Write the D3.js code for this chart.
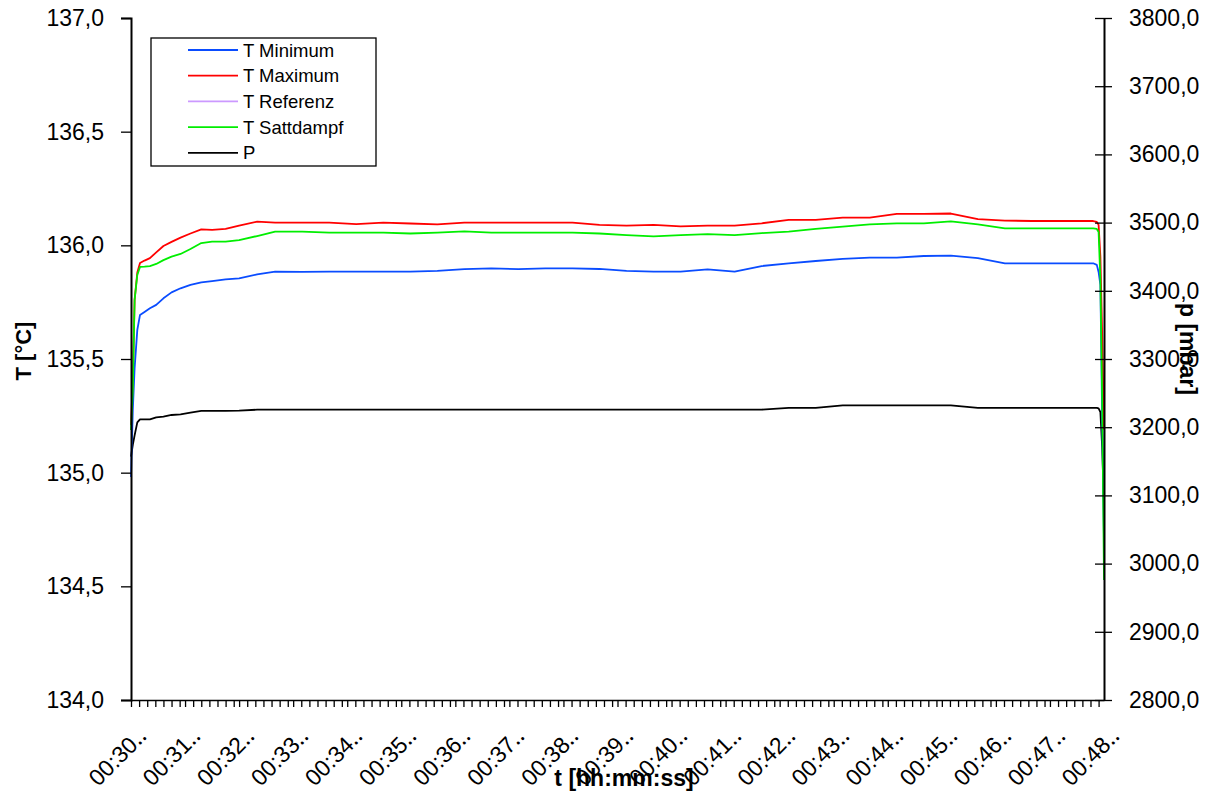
<!DOCTYPE html>
<html>
<head>
<meta charset="utf-8">
<script src="https://cdn.jsdelivr.net/npm/d3@7"></script>
<style>
  body { margin: 0; background: #fff; }
  text { font-family: "Liberation Sans", Arial, sans-serif; fill: #000; }
</style>
</head>
<body>
<script>
// sample times (hh:mm:ss)
var times = [
    '00:30:00', '00:30:02', '00:30:04', '00:30:07', '00:30:10', '00:30:15', '00:30:21', '00:30:28', '00:30:36', '00:30:45',
    '00:30:55', '00:31:06', '00:31:18', '00:31:30', '00:31:45', '00:32:00', '00:32:20', '00:32:40', '00:33:10', '00:33:40',
    '00:34:10', '00:34:40', '00:35:10', '00:35:40', '00:36:10', '00:36:40', '00:37:10', '00:37:40', '00:38:10', '00:38:40',
    '00:39:10', '00:39:40', '00:40:10', '00:40:40', '00:41:10', '00:41:40', '00:42:10', '00:42:40', '00:43:10', '00:43:40',
    '00:44:10', '00:44:40', '00:45:10', '00:45:40', '00:46:10', '00:46:40', '00:47:10', '00:47:30', '00:47:40', '00:47:48',
    '00:47:52', '00:47:54', '00:47:56', '00:47:58', '00:48:00'
];

// T Minimum [°C]
var tMinimum = [
    134.981, 135.276, 135.460, 135.628, 135.694, 135.707, 135.723, 135.738, 135.767, 135.793,
    135.811, 135.826, 135.837, 135.843, 135.850, 135.855, 135.872, 135.884, 135.883, 135.884,
    135.884, 135.884, 135.884, 135.888, 135.895, 135.899, 135.895, 135.899, 135.899, 135.896,
    135.888, 135.884, 135.884, 135.894, 135.884, 135.909, 135.921, 135.931, 135.940, 135.946,
    135.946, 135.953, 135.955, 135.944, 135.921, 135.921, 135.921, 135.921, 135.921, 135.921,
    135.914, 135.883, 135.826, 135.232, 134.704
];

// T Maximum [°C]
var tMaximum = [
    135.210, 135.408, 135.760, 135.880, 135.922, 135.933, 135.944, 135.969, 135.997, 136.015,
    136.034, 136.052, 136.070, 136.068, 136.072, 136.087, 136.104, 136.100, 136.100, 136.100,
    136.093, 136.100, 136.096, 136.092, 136.100, 136.100, 136.100, 136.100, 136.100, 136.090,
    136.087, 136.090, 136.083, 136.087, 136.087, 136.097, 136.112, 136.112, 136.122, 136.122,
    136.138, 136.138, 136.140, 136.115, 136.109, 136.107, 136.107, 136.107, 136.107, 136.107,
    136.103, 136.090, 135.950, 135.600, 135.190
];

// T Referenz [°C] - not visible in the chart
var tReferenz = [];

// T Sattdampf [°C]
var tSattdampf = [
    135.188, 135.364, 135.760, 135.870, 135.905, 135.906, 135.909, 135.918, 135.935, 135.950,
    135.962, 135.984, 136.010, 136.016, 136.016, 136.023, 136.041, 136.060, 136.060, 136.056,
    136.056, 136.056, 136.052, 136.056, 136.061, 136.056, 136.056, 136.056, 136.056, 136.052,
    136.045, 136.039, 136.045, 136.049, 136.045, 136.054, 136.060, 136.072, 136.082, 136.092,
    136.097, 136.097, 136.105, 136.092, 136.075, 136.075, 136.075, 136.075, 136.075, 136.075,
    136.072, 136.059, 135.848, 135.320, 134.528
];

// P [mbar]
var pressure = [
    3156.8, 3174.0, 3188.0, 3207.0, 3211.6, 3211.6, 3211.6, 3214.5, 3215.4, 3217.9,
    3218.9, 3221.3, 3223.8, 3223.8, 3224.0, 3224.2, 3225.7, 3225.7, 3225.7, 3225.7,
    3225.7, 3225.7, 3225.7, 3225.7, 3225.7, 3225.7, 3225.7, 3225.7, 3225.7, 3225.7,
    3225.7, 3225.7, 3225.7, 3225.7, 3225.7, 3225.7, 3228.2, 3228.2, 3232.1, 3232.1,
    3232.1, 3232.1, 3232.1, 3228.2, 3228.2, 3228.2, 3228.2, 3228.2, 3228.2, 3228.2,
    3228.2, 3227.5, 3222.0, 3170.0, 3083.4
];

var tTicks = [134.0, 134.5, 135.0, 135.5, 136.0, 136.5, 137.0];
var pTicks = [2800, 2900, 3000, 3100, 3200, 3300, 3400, 3500, 3600, 3700, 3800];

(function(d3) {
    'use strict';

    var settings = {
        width: 1211,
        height: 794,
        left: 131,
        right: 1104,
        top: 18,
        bottom: 700,
        fontSize: 23
    };

    var parse = d3.timeParse('%H:%M:%S');
    var dates = times.map(parse);

    var x = d3.scaleTime()
        .domain([parse('00:30:00'), parse('00:48:00')])
        .range([settings.left, settings.right]);
    var yT = d3.scaleLinear().domain([134, 137]).range([settings.bottom, settings.top]);
    var yP = d3.scaleLinear().domain([2800, 3800]).range([settings.bottom, settings.top]);

    var de = d3.formatLocale({ decimal: ',', thousands: '.', grouping: [3], currency: ['', ' €'] });
    var fmt1 = de.format('.1f');

    var svg = d3.select('body').append('svg')
        .attr('width', settings.width)
        .attr('height', settings.height);

    var series = [
        { name: 'P', values: pressure, color: '#000000', y: yP },
        { name: 'T Minimum', values: tMinimum, color: '#0a4cff', y: yT },
        { name: 'T Maximum', values: tMaximum, color: '#ff0000', y: yT },
        { name: 'T Referenz', values: tReferenz, color: '#cc99ff', y: yT },
        { name: 'T Sattdampf', values: tSattdampf, color: '#00ee00', y: yT }
    ];

    series.forEach(function(s) {
        var line = d3.line()
            .x(function(d, i) { return x(dates[i]); })
            .y(function(d) { return s.y(d); });
        if (!s.values.length) return;
        svg.append('path')
            .datum(s.values)
            .attr('fill', 'none')
            .attr('stroke', s.color)
            .attr('stroke-width', 1.8)
            .attr('stroke-linejoin', 'round')
            .attr('d', line);
    });

    // left axis
    var leftAxis = svg.append('g')
        .attr('transform', 'translate(' + settings.left + ',0)')
        .call(d3.axisLeft(yT).tickValues(tTicks).tickFormat(fmt1).tickSize(10).tickPadding(17));
    // right axis, ticks cross the line
    var rightAxis = svg.append('g')
        .attr('transform', 'translate(' + settings.right + ',0)')
        .call(d3.axisRight(yP).tickValues(pTicks).tickFormat(fmt1).tickSizeInner(8).tickSizeOuter(0).tickPadding(17));
    rightAxis.selectAll('.tick line').attr('x1', -9);

    // bottom axis: minor ticks
    var bottomAxis = svg.append('g')
        .attr('transform', 'translate(0,' + settings.bottom + ')')
        .call(d3.axisBottom(x).tickValues(d3.timeSecond.every(9).range(x.domain()[0], x.domain()[1]))
            .tickFormat('').tickSizeInner(7).tickSizeOuter(0));

    // bottom axis: minute labels (cut off like the original)
    var minuteFmt = d3.timeFormat('%H:%M');
    var labels = svg.append('g')
        .attr('transform', 'translate(0,' + settings.bottom + ')')
        .call(d3.axisBottom(x).tickValues(d3.timeMinute.every(1).range(x.domain()[0], d3.timeSecond.offset(x.domain()[1], 1)))
            .tickFormat(function(d) { return minuteFmt(d) + '\u2025'; }).tickSize(0));
    labels.select('.domain').remove();
    labels.selectAll('.tick text')
        .attr('y', 0)
        .attr('dy', 0)
        .attr('text-anchor', 'end')
        .attr('transform', 'translate(16,38) rotate(-45)')
        .style('font-size', '23px');

    [leftAxis, rightAxis, bottomAxis].forEach(function(a) {
        a.selectAll('.domain').attr('stroke', '#000').attr('stroke-width', 2);
        a.selectAll('.tick line').attr('stroke', '#000').attr('stroke-width', 1.3);
        a.selectAll('text').style('font-size', settings.fontSize + 'px').attr('font-family', null);
    });
    labels.selectAll('text').attr('font-family', null);
    bottomAxis.select('.domain').attr('stroke-width', 1.5);

    // axis titles
    svg.append('text')
        .attr('transform', 'translate(31,351) rotate(-90)')
        .attr('text-anchor', 'middle')
        .style('font-size', '22px')
        .style('font-weight', 'bold')
        .text('T [°C]');
    svg.append('text')
        .attr('transform', 'translate(1180,349) rotate(90)')
        .attr('text-anchor', 'middle')
        .style('font-size', '23px')
        .style('font-weight', 'bold')
        .text('p [mbar]');
    svg.append('text')
        .attr('x', 624)
        .attr('y', 786)
        .attr('text-anchor', 'middle')
        .style('font-size', '23px')
        .style('font-weight', 'bold')
        .text('t [hh:mm:ss]');

    // legend
    var legendOrder = ['T Minimum', 'T Maximum', 'T Referenz', 'T Sattdampf', 'P'];
    var legend = svg.append('g').attr('transform', 'translate(151,38)');
    legend.append('rect')
        .attr('width', 225)
        .attr('height', 128)
        .attr('fill', '#fff')
        .attr('stroke', '#000')
        .attr('stroke-width', 1.3);
    var item = legend.selectAll('g.item')
        .data(legendOrder.map(function(n) { return series.find(function(s) { return s.name === n; }); }))
        .enter().append('g')
        .attr('class', 'item')
        .attr('transform', function(d, i) { return 'translate(0,' + (12 + i * 25.7) + ')'; });
    item.append('line')
        .attr('x1', 37).attr('x2', 87)
        .attr('stroke', function(d) { return d.color; })
        .attr('stroke-width', 1.8);
    item.append('text')
        .attr('x', 92)
        .attr('dy', '0.36em')
        .style('font-size', '18.5px')
        .text(function(d) { return d.name; });
})(window.d3);
</script>
</body>
</html>
